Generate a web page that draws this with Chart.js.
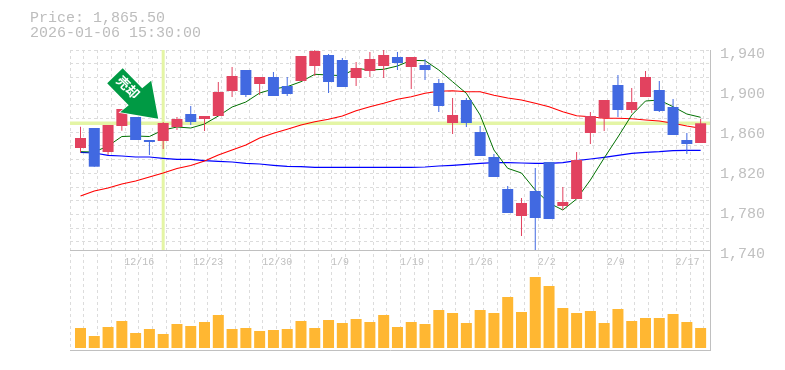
<!DOCTYPE html>
<html><head><meta charset="utf-8">
<script src="https://cdn.jsdelivr.net/npm/chart.js@4"></script>
<style>html,body{margin:0;padding:0;background:#fff}canvas{display:block}</style>
</head><body><canvas id="c" width="785" height="370"></canvas>
<script>
const titleLines = ["Price: 1,865.50", "2026-01-06 15:30:00"];
const priceTicks = [1940, 1900, 1860, 1820, 1780, 1740];
const dateTickIndex = [4, 9, 14, 19, 24, 29, 34, 39, 44];
const dateTickLabels = ["12/16", "12/23", "12/30", "1/9", "1/19", "1/26", "2/2", "2/9", "2/17"];
const opens = [1840.8,1860.8,1836.8,1862.8,1871.8,1848.8,1847.8,1861.8,1874.8,1869.8,1872.8,1897.8,1918.8,1904.8,1911.8,1902.8,1907.8,1922.8,1933.8,1928.8,1910.8,1917.8,1922.8,1931.8,1921.8,1923.8,1905.8,1865.8,1888.8,1856.8,1831.8,1799.8,1772.8,1797.8,1826.8,1782.8,1789.8,1855.8,1870.8,1903.8,1878.8,1891.8,1898.8,1881.8,1848.8,1845.8];
const closes = [1850.8,1822.1,1863.8,1879.8,1848.8,1846.8,1865.8,1869.8,1866.8,1872.8,1896.8,1912.8,1893.8,1911.8,1892.8,1894.8,1932.8,1937.8,1906.8,1901.8,1920.8,1929.8,1933.8,1925.8,1931.8,1918.8,1882.8,1873.8,1865.8,1832.8,1811.8,1775.8,1785.8,1770.8,1769.8,1786.8,1828.8,1872.8,1888.8,1878.8,1886.8,1911.8,1877.8,1853.8,1844.8,1865.5];
const highs = [1862.1,1860.8,1863.8,1879.8,1871.8,1848.8,1866.8,1871.8,1882.8,1872.8,1906.8,1921.8,1918.8,1911.8,1916.8,1911.8,1932.8,1938.8,1934.8,1930.8,1926.8,1936.8,1938.8,1936.8,1931.8,1929.8,1909.8,1890.8,1890.8,1862.8,1834.8,1802.8,1790.8,1820.8,1826.8,1801.8,1836.8,1876.8,1888.8,1913.8,1900.8,1917.8,1907.8,1889.8,1855.8,1869.8];
const lows = [1836.1,1822.1,1833.8,1858.1,1848.8,1833.8,1839.8,1858.8,1863.8,1857.8,1872.8,1891.8,1891.8,1893.8,1892.8,1892.8,1907.8,1912.8,1895.8,1901.8,1902.8,1911.8,1910.8,1918.8,1899.8,1908.8,1876.8,1854.8,1861.8,1832.8,1811.8,1775.8,1752.8,1738.8,1769.8,1778.8,1789.8,1844.8,1857.8,1871.8,1875.8,1891.8,1876.8,1853.8,1834.8,1845.8];
const maShort = [1837.1,1836.8,1842.8,1852.3,1852.8,1852.3,1858.8,1861.8,1860.8,1864.8,1872.8,1881.8,1886.8,1895.8,1899.8,1902.1,1907.1,1914.5,1913.8,1913.1,1920.5,1918.8,1919.5,1922.8,1928.5,1928.1,1918.8,1907.1,1895.5,1873.8,1838.8,1820.5,1815.8,1798.8,1785.8,1778.8,1789.8,1808.8,1830.8,1851.8,1873.8,1887.8,1888.8,1882.1,1874.8,1871.5];
const maMid = [1792.8,1797.8,1800.8,1804.8,1807.8,1811.8,1815.8,1820.3,1823.3,1827.8,1833.8,1838.8,1843.8,1850.8,1855.5,1859.5,1863.8,1867.1,1869.5,1872.8,1878.1,1882.1,1885.5,1889.5,1892.1,1895.5,1897.5,1898.1,1897.1,1897.1,1893.5,1890.8,1888.8,1885.5,1882.1,1877.1,1873.1,1872.1,1870.5,1870.5,1870.1,1868.8,1867.8,1865.5,1862.8,1860.5];
const maLong = [1836.5,1835.8,1833.5,1832.8,1831.8,1831.8,1830.5,1829.5,1829.5,1828.1,1827.5,1826.8,1825.5,1824.8,1823.5,1822.5,1822.1,1821.5,1821.5,1821.5,1821.5,1821.5,1821.5,1821.5,1821.5,1821.8,1822.8,1823.5,1824.5,1825.5,1826.1,1826.1,1825.8,1825.5,1825.5,1826.1,1828.1,1829.8,1831.5,1833.5,1835.5,1836.5,1837.1,1838.1,1838.5,1838.5];
const volumes = [20,12,21,27,15,19,14,24,22,26,33,19,20,17,18,19,27,20,28,25,29,26,33,21,26,24,38,35,25,38,35,51,36,71,62,40,35,37,25,39,27,30,30,34,26,20];
const crossPrice = 1865.5;
const crossIndex = 6;

const XMIN = -0.762, XMAX = 45.68, YTOP = 1938.8, YBOTTOM = 1638.8, PANE_SPLIT = 1738.8;
const GREY = '#c0c0c0', GRID = '#dcdcdc', CROSS = '#e4f5a5';
const RED = '#e2425f', BLUE = '#4169e1', GOLD = '#ffb732';
const MONO = '"Liberation Mono", monospace';

const idx = opens.map((_, i) => i);
const colors = idx.map(i => closes[i] >= opens[i] ? RED : BLUE);

const overlay = {
  id: 'overlay',
  afterDatasetsDraw(chart) {
    const { ctx, scales } = chart;
    const cx = scales.x.getPixelForValue(crossIndex), cy = scales.y.getPixelForValue(crossPrice);
    ctx.save();
    // green marker arrow pointing at the crosshair
    const pts = [[-40.5,-55],[-56,-40],[-34.5,-18],[-43,-11],[-5,-4.5],[-12,-42.5],[-21,-35]];
    ctx.beginPath();
    pts.forEach((p, i) => i ? ctx.lineTo(cx + p[0], cy + p[1]) : ctx.moveTo(cx + p[0], cy + p[1]));
    ctx.closePath();
    ctx.lineJoin = 'miter';
    ctx.lineWidth = 1.5; ctx.strokeStyle = '#fff'; ctx.stroke();
    ctx.fillStyle = '#009a44'; ctx.fill();
    ctx.translate(cx - 35, cy - 36);
    ctx.rotate(Math.PI / 4);
    ctx.fillStyle = '#fff';
    ctx.font = 'bold 13px "Noto Sans CJK JP"';
    ctx.textAlign = 'center'; ctx.textBaseline = 'middle';
    ctx.fillText('売却', 0, 0);
    ctx.restore();
    ctx.save();
    ctx.font = '15px ' + MONO; ctx.fillStyle = '#bdbdbd';
    ctx.textAlign = 'left'; ctx.textBaseline = 'middle';
    titleLines.forEach((t, i) => ctx.fillText(t, 30, 18 + i * 15));
    ctx.restore();
  }
};

const hiddenGrid = (axis, extra) => Object.assign({
  axis, display: true, ticks: { display: false },
  grid: { color: GRID, drawTicks: false, lineWidth: 1 },
  border: { display: false, dash: [3, 3] }
}, extra);

new Chart(document.getElementById('c'), {
  data: { datasets: [
    { type: 'line', data: [{x: XMIN, y: crossPrice}, {x: XMAX, y: crossPrice}], borderColor: CROSS, borderWidth: 3.4, pointRadius: 0, order: 9 },
    { type: 'line', data: [{x: crossIndex, y: YTOP}, {x: crossIndex, y: PANE_SPLIT}], borderColor: CROSS, borderWidth: 3, pointRadius: 0, order: 9 },
    { type: 'line', data: idx.map(i => ({x: i, y: maLong[i]})), borderColor: '#0000ff', borderWidth: 1.2, pointRadius: 0, tension: 0, order: 8 },
    { type: 'line', data: idx.map(i => ({x: i, y: maMid[i]})), borderColor: '#ff0000', borderWidth: 1.1, pointRadius: 0, tension: 0, order: 7 },
    { type: 'line', data: idx.map(i => ({x: i, y: maShort[i]})), borderColor: '#007000', borderWidth: 1, pointRadius: 0, tension: 0, order: 6 },
    { type: 'bar', data: idx.map(i => ({x: i, y: volumes[i]})), yAxisID: 'yVol', backgroundColor: GOLD, barThickness: 11, grouped: false, inflateAmount: 0, order: 5 },
    { type: 'bar', data: idx.map(i => ({x: i, y: [lows[i], highs[i]]})), backgroundColor: colors, barThickness: 1, grouped: false, inflateAmount: 0, order: 4 },
    { type: 'bar', data: idx.map(i => ({x: i, y: [opens[i], closes[i]]})), backgroundColor: colors, barThickness: 11, grouped: false, inflateAmount: 0, order: 3 }
  ]},
  options: {
    responsive: false, animation: false, events: [],
    layout: { padding: { left: 70, top: 50, right: 0, bottom: 20 } },
    plugins: { legend: { display: false }, tooltip: { enabled: false }, title: { display: false } },
    scales: {
      x: {
        type: 'linear', axis: 'x', offset: false, min: XMIN, max: XMAX, position: { y: PANE_SPLIT },
        afterBuildTicks: s => { s.ticks = dateTickIndex.map(v => ({ value: v })); },
        grid: { display: false, drawTicks: false, offset: false },
        border: { display: true, color: GREY, width: 1 },
        ticks: {
          autoSkip: false, maxRotation: 0, minRotation: 0, align: 'start', labelOffset: -11.3, padding: 6,
          color: GREY, font: { family: MONO, size: 10 },
          callback: v => dateTickLabels[dateTickIndex.indexOf(v)] ?? ''
        }
      },
      xFrame: hiddenGrid('x', {
        type: 'linear', offset: false, position: 'bottom', min: 0, max: 640 / 13.78,
        afterFit: s => { s.height = 0; },
        afterBuildTicks: s => { s.ticks = idx.concat([46]).map(v => ({ value: v })); },
        border: { display: true, color: GREY, width: 1, dash: [3, 3] },
        grid: { color: GRID, drawTicks: false, offset: false }
      }),
      y: {
        type: 'linear', position: 'right', min: YBOTTOM, max: YTOP,
        afterFit: s => { s.width = 75; },
        afterBuildTicks: s => { s.ticks = priceTicks.map(v => ({ value: v })); },
        grid: { display: false, drawTicks: false },
        border: { display: true, color: GREY, width: 1 },
        ticks: {
          autoSkip: false, padding: 10, labelOffset: 5, color: GREY,
          font: { family: MONO, size: 15 }, callback: v => v.toLocaleString('en-US')
        }
      },
      yGrid: hiddenGrid('y', {
        type: 'linear', position: 'right', reverse: true, min: 0, max: 300 / 13.71,
        afterFit: s => { s.width = 0; },
        afterBuildTicks: s => { s.ticks = Array.from({length: 15}, (_, k) => ({ value: k })); }
      }),
      yVol: { type: 'linear', display: false, min: -2, max: 298 }
    }
  },
  plugins: [overlay]
});
</script></body></html>
